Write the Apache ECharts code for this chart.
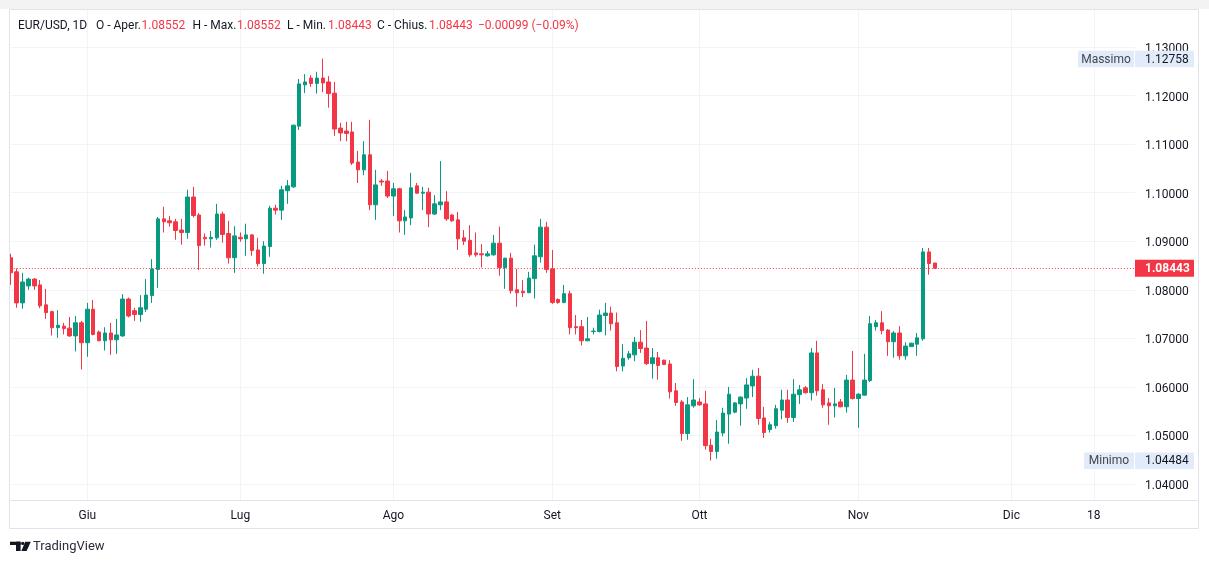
<!DOCTYPE html>
<html>
<head>
<meta charset="utf-8">
<script src="https://cdn.jsdelivr.net/npm/echarts@6/dist/echarts.min.js"></script>
<style>
html,body{margin:0;padding:0;background:#ffffff;}
#chart{width:1209px;height:564px;}
</style>
</head>
<body>
<div id="chart"></div>
<script>
// ---------------- DATA ----------------
const symbolName = 'EUR/USD, 1D';
const firstDate = '2023-05-17';      // first bar (daily bars, Sunday sessions included, no Saturdays)
const slotCount = 192;               // bars + empty future slots shown on the time scale

const opens = [
1.0866,1.0837,1.0773,1.0808,1.0822,1.0810,1.0769,1.0755,1.0722,1.0725,
1.0721,1.0705,1.0732,1.0691,1.0760,1.0713,1.0695,1.0711,1.0697,1.0705,
1.0781,1.0757,1.0749,1.0760,1.0788,1.0842,1.0946,1.0942,1.0940,1.0923,
1.0918,1.0991,1.0954,1.0908,1.0905,1.0907,1.0956,1.0916,1.0866,1.0908,
1.0905,1.0913,1.0882,1.0854,1.0889,1.0968,1.0964,1.1004,1.1012,1.1137,
1.1222,1.1236,1.1225,1.1236,1.1228,1.1205,1.1133,1.1127,1.1125,1.1063,
1.1047,1.1078,1.0975,1.1024,1.1024,1.0993,1.1008,1.0942,1.0948,1.1014,
1.0999,1.1001,1.0956,1.0975,1.0981,1.0954,1.0944,1.0907,1.0902,1.0876,
1.0874,1.0870,1.0872,1.0896,1.0846,1.0865,1.0800,1.0797,1.0794,1.0823,
1.0868,1.0929,1.0843,1.0780,1.0774,1.0792,1.0724,1.0724,1.0695,1.0714,
1.0714,1.0747,1.0752,1.0732,1.0643,1.0660,1.0666,1.0692,1.0680,1.0648,
1.0660,1.0655,1.0647,1.0592,1.0569,1.0504,1.0561,1.0569,1.0565,1.0480,
1.0467,1.0505,1.0544,1.0548,1.0565,1.0577,1.0602,1.0622,1.0536,1.0512,
1.0520,1.0552,1.0573,1.0537,1.0584,1.0598,1.0588,1.0670,1.0594,1.0567,
1.0561,1.0569,1.0559,1.0614,1.0576,1.0583,1.0613,1.0724,1.0732,1.0717,
1.0693,1.0711,1.0664,1.0683,1.0688,1.0699,1.0878,1.08552
];
const highs = [
1.0874,1.0844,1.0835,1.0825,1.0824,1.0820,1.0802,1.0757,1.0758,1.0732,
1.0744,1.0746,1.0736,1.0773,1.0779,1.0716,1.0723,1.0732,1.0740,1.0791,
1.0784,1.0763,1.0789,1.0822,1.0863,1.0950,1.0971,1.0952,1.0946,1.0946,
1.1006,1.1012,1.0958,1.0916,1.0921,1.0977,1.0961,1.0942,1.0931,1.0918,
1.0936,1.0915,1.0907,1.0900,1.0973,1.0975,1.1014,1.1026,1.1140,1.1234,
1.1244,1.1242,1.1249,1.12758,1.1240,1.1228,1.1144,1.1146,1.1146,1.1086,
1.1106,1.1150,1.1047,1.1028,1.1045,1.1020,1.1010,1.0964,1.1041,1.1020,
1.1012,1.1010,1.0995,1.1065,1.1003,1.0956,1.0960,1.0923,1.0933,1.0918,
1.0894,1.0880,1.0913,1.0930,1.0866,1.0876,1.0843,1.0820,1.0837,1.0893,
1.0946,1.0940,1.0882,1.0782,1.0810,1.0798,1.0748,1.0738,1.0744,1.0722,
1.0759,1.0773,1.0765,1.0753,1.0688,1.0674,1.0703,1.0717,1.0736,1.0680,
1.0672,1.0656,1.0655,1.0608,1.0573,1.0579,1.0616,1.0577,1.0592,1.0493,
1.0532,1.0557,1.0600,1.0569,1.0580,1.0618,1.0635,1.0639,1.0559,1.0528,
1.0563,1.0594,1.0594,1.0616,1.0604,1.0602,1.0680,1.0695,1.0606,1.0577,
1.0598,1.0575,1.0625,1.0674,1.0587,1.0668,1.0746,1.0738,1.0756,1.0719,
1.0715,1.0725,1.0692,1.0691,1.0711,1.0886,1.0886,1.08552
];
const lows = [
1.0810,1.0763,1.0761,1.0800,1.0800,1.0762,1.0740,1.0706,1.0701,1.0708,
1.0703,1.0673,1.0636,1.0662,1.0706,1.0694,1.0675,1.0666,1.0668,1.0703,
1.0743,1.0736,1.0734,1.0754,1.0773,1.0804,1.0918,1.0930,1.0903,1.0893,
1.0905,1.0949,1.0841,1.0891,1.0887,1.0903,1.0897,1.0854,1.0835,1.0899,
1.0870,1.0870,1.0848,1.0833,1.0868,1.0955,1.0944,1.0977,1.1010,1.1129,
1.1205,1.1218,1.1204,1.1207,1.1175,1.1117,1.1106,1.1106,1.1057,1.1020,
1.1036,1.0964,1.0944,1.1014,1.0989,1.0952,1.0918,1.0913,1.0933,1.0998,
1.0964,1.0929,1.0954,1.0964,1.0942,1.0940,1.0882,1.0892,1.0868,1.0868,
1.0846,1.0868,1.0870,1.0829,1.0802,1.0792,1.0765,1.0785,1.0793,1.0782,
1.0856,1.0835,1.0771,1.0771,1.0772,1.0708,1.0708,1.0685,1.0694,1.0708,
1.0712,1.0706,1.0716,1.0632,1.0632,1.0656,1.0653,1.0670,1.0645,1.0617,
1.0615,1.0645,1.0576,1.0561,1.0489,1.0491,1.0557,1.0561,1.0471,1.04484,
1.0452,1.0498,1.0483,1.0546,1.0520,1.0555,1.0579,1.0522,1.0495,1.0506,
1.0514,1.0533,1.0526,1.0528,1.0565,1.0586,1.0572,1.0582,1.0557,1.0522,
1.0537,1.0558,1.0547,1.0574,1.0516,1.0582,1.0610,1.0716,1.0708,1.0664,
1.0660,1.0656,1.0656,1.0682,1.0664,1.0695,1.0831,1.08443
];
const closes = [
1.0835,1.0773,1.0816,1.0822,1.0808,1.0767,1.0753,1.0722,1.0727,1.0720,
1.0705,1.0732,1.0691,1.0760,1.0708,1.0695,1.0711,1.0697,1.0707,1.0781,
1.0746,1.0749,1.0763,1.0789,1.0843,1.0946,1.0940,1.0938,1.0922,1.0918,
1.0991,1.0953,1.0891,1.0905,1.0908,1.0956,1.0914,1.0866,1.0911,1.0905,
1.0913,1.0881,1.0854,1.0890,1.0968,1.0964,1.1006,1.1014,1.1139,1.1224,
1.1228,1.1225,1.1236,1.1226,1.1204,1.1131,1.1123,1.1122,1.1061,1.1047,
1.1078,1.0975,1.1016,1.1022,1.0993,1.1008,1.0942,1.0950,1.1010,1.0999,
1.1001,1.0956,1.0977,1.0981,1.0946,1.0942,1.0905,1.0900,1.0872,1.0872,
1.0872,1.0874,1.0896,1.0846,1.0865,1.0798,1.0794,1.0794,1.0824,1.0870,
1.0929,1.0842,1.0774,1.0774,1.0792,1.0722,1.0722,1.0695,1.0699,1.0715,
1.0748,1.0752,1.0730,1.0642,1.0659,1.0668,1.0692,1.0679,1.0648,1.0660,
1.0644,1.0646,1.0590,1.0568,1.0504,1.0563,1.0573,1.0563,1.0479,1.0467,
1.0507,1.0546,1.0585,1.0567,1.0579,1.0604,1.0622,1.0535,1.0506,1.0522,
1.0555,1.0573,1.0537,1.0585,1.0594,1.0588,1.0670,1.0592,1.0563,1.0561,
1.0565,1.0559,1.0614,1.0576,1.0585,1.0614,1.0730,1.0732,1.0716,1.0693,
1.0711,1.0664,1.0684,1.0690,1.0701,1.0878,1.08542,1.08443
];

// time-scale labels (first bar of each month, plus a day mark)
const timeTickLabels = {
  '2023-06-01': 'Giu', '2023-07-02': 'Lug', '2023-08-01': 'Ago',
  '2023-09-01': 'Set', '2023-10-01': 'Ott', '2023-11-01': 'Nov',
  '2023-12-01': 'Dic', '2023-12-18': '18'
};
const highLabel = 'Massimo';
const lowLabel = 'Minimo';

// ---------------- HELPERS ----------------
function buildSlots(start, n) {
  const out = [];
  let t = Date.parse(start + 'T00:00:00Z');
  while (out.length < n) {
    const d = new Date(t);
    if (d.getUTCDay() !== 6) out.push(d.toISOString().slice(0, 10));
    t += 86400000;
  }
  return out;
}
const dates = buildSlots(firstDate, slotCount);
const candles = opens.map((o, i) => [o, closes[i], lows[i], highs[i]]);
const last = opens.length - 1;
const lastClose = closes[last];
const maxHigh = Math.max.apply(null, highs);
const minLow = Math.min.apply(null, lows);
const chg = closes[last] - closes[last - 1];
const pct = chg / closes[last - 1] * 100;
const fmt5 = v => v.toFixed(5);
const signed = (v, d) => (v < 0 ? '\u2212' : '+') + Math.abs(v).toFixed(d);

const UP = '#089981', DOWN = '#F23645', TXT = '#131722', GRID = '#f0f3fa', FONT = 'Roboto, "Noto Sans", sans-serif';

const chart = echarts.init(document.getElementById('chart'), null, {renderer: 'canvas'});

const option = {
  animation: false,
  backgroundColor: '#ffffff',
  grid: {left: 10.8, right: 74, top: 10, bottom: 64, containLabel: false},
  xAxis: {
    type: 'category',
    data: dates,
    boundaryGap: false,
    axisLine: {show: false},
    axisTick: {show: false},
    axisLabel: {
      interval: (i, v) => Object.prototype.hasOwnProperty.call(timeTickLabels, v),
      formatter: v => timeTickLabels[v] || '',
      color: TXT, fontSize: 12, fontFamily: FONT, margin: 10
    },
    splitLine: {
      show: true,
      interval: (i, v) => Object.prototype.hasOwnProperty.call(timeTickLabels, v),
      lineStyle: {color: GRID, width: 1}
    }
  },
  yAxis: {
    type: 'value',
    position: 'right',
    min: 1.036705,
    max: 1.13762,
    splitNumber: 10,
    scale: true,
    axisLine: {show: false},
    axisTick: {show: false},
    axisLabel: {
      showMinLabel: false, showMaxLabel: false,
      formatter: v => v.toFixed(5),
      color: TXT, fontSize: 12, fontFamily: FONT, margin: 10,
      verticalAlign: 'top', lineHeight: 4
    },
    splitLine: {show: true, showMinLine: false, showMaxLine: false, lineStyle: {color: GRID, width: 1}}
  },
  series: [{
    type: 'candlestick',
    data: candles,
    barWidth: 4,
    itemStyle: {color: UP, color0: DOWN, borderColor: UP, borderColor0: DOWN, borderWidth: 1},
    markLine: {
      silent: true,
      precision: 5,
      symbol: ['none', 'none'],
      label: {show: false},
      lineStyle: {type: [1, 2], color: DOWN, width: 1},
      data: [{yAxis: lastClose}]
    }
  }]
};
chart.setOption(option);

// ---------------- OVERLAYS (positions through the chart's own scale) ----------------
const yOf = v => chart.convertToPixel({yAxisIndex: 0}, v);
const yMaxPx = yOf(maxHigh), yMinPx = yOf(minLow), yLastPx = yOf(lastClose);

function scaleTag(labelText, labelX, value, y) {
  return [
    {type: 'rect', z: 100, shape: {x: labelX, y: y - 8, width: 1134 - labelX, height: 16.5}, style: {fill: '#e1ebf9'}},
    {type: 'text', z: 101, x: (labelX + 1134) / 2, y: y + 1, style: {text: labelText, fill: '#434651', font: '12px ' + FONT, textAlign: 'center', textVerticalAlign: 'middle'}},
    {type: 'rect', z: 100, shape: {x: 1135, y: y - 8, width: 59, height: 16.5}, style: {fill: '#e1ebf9'}},
    {type: 'text', z: 101, x: 1145, y: y + 1, style: {text: fmt5(value), fill: TXT, font: '12px ' + FONT, textVerticalAlign: 'middle'}}
  ];
}

const headerItems = [
  {x: 18, t: symbolName, c: TXT},
  {x: 96, t: 'O - Aper.', c: TXT}, {x: 141.5, t: fmt5(opens[last]), c: DOWN},
  {x: 192.5, t: 'H - Max.', c: TXT}, {x: 237, t: fmt5(highs[last]), c: DOWN},
  {x: 287, t: 'L - Min.', c: TXT}, {x: 328, t: fmt5(lows[last]), c: DOWN},
  {x: 377, t: 'C - Chius.', c: TXT}, {x: 429, t: fmt5(closes[last]), c: DOWN},
  {x: 478, t: signed(chg, 5) + ' (' + signed(pct, 2) + '%)', c: DOWN}
];

const graphics = [
  {type: 'rect', z: 90, shape: {x: 0, y: 0, width: 1209, height: 9}, style: {fill: '#f3f3f3'}},
  {type: 'rect', z: 90, shape: {x: 9.5, y: 9.5, width: 1189, height: 519}, style: {fill: 'none', stroke: '#e0e3eb', lineWidth: 1}},
  {type: 'line', z: 90, shape: {x1: 10, y1: 500.5, x2: 1198, y2: 500.5}, style: {stroke: '#e0e3eb', lineWidth: 1}},
  // last price tag
  {type: 'rect', z: 100, shape: {x: 1135, y: yLastPx - 8.5, width: 59, height: 17}, style: {fill: DOWN}},
  {type: 'text', z: 101, x: 1145, y: yLastPx + 1, style: {text: fmt5(lastClose), fill: '#ffffff', font: 'bold 12px ' + FONT, textVerticalAlign: 'middle'}},
  // TradingView mark
  {type: 'rect', z: 100, shape: {x: 10, y: 541.7, width: 10.6, height: 3.3}, style: {fill: TXT}},
  {type: 'rect', z: 100, shape: {x: 16, y: 541.7, width: 4.6, height: 9.3}, style: {fill: TXT}},
  {type: 'circle', z: 100, shape: {cx: 22.8, cy: 543.4, r: 1.7}, style: {fill: TXT}},
  {type: 'polygon', z: 100, shape: {points: [[25.3, 541.7], [30.8, 541.7], [26.6, 551], [21.3, 551]]}, style: {fill: TXT}},
  {type: 'text', z: 100, x: 33, y: 547, style: {text: 'TradingView', fill: '#2a2e39', font: '13px ' + FONT, textVerticalAlign: 'middle'}}
].concat(scaleTag(highLabel, 1078, maxHigh, yMaxPx))
 .concat(scaleTag(lowLabel, 1084, minLow, yMinPx))
 .concat(headerItems.map(h => ({type: 'text', z: 100, x: h.x, y: 26, style: {text: h.t, fill: h.c, font: '12px ' + FONT, textVerticalAlign: 'middle'}})));

chart.setOption({graphic: graphics});
</script>
</body>
</html>
